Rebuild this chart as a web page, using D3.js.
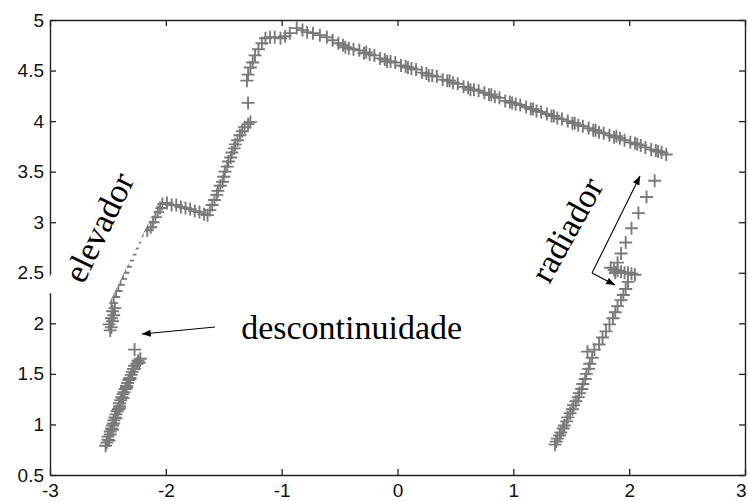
<!DOCTYPE html>
<html>
<head>
<meta charset="utf-8">
<script src="https://cdn.jsdelivr.net/npm/d3@7"></script>
<style>
  body { margin: 0; background: #fff; }
  svg { display: block; }
  .tick text { font-family: "Liberation Sans", Arial, sans-serif; font-size: 19px; fill: #111; }
  .note { font-family: "Liberation Serif", "Times New Roman", serif; font-size: 34px; fill: #000; }
</style>
</head>
<body>
<svg id="chart" width="748" height="501"></svg>
<script>
// axis ticks
const xTicks = [-3, -2, -1, 0, 1, 2, 3];
const yTicks = [0.5, 1, 1.5, 2, 2.5, 3, 3.5, 4, 4.5, 5];

// laser scan points, one array per stretch of wall
const lowerLeft = [[-2.52,0.79],[-2.51,0.82],[-2.50,0.85],[-2.50,0.88],[-2.48,0.90],[-2.48,0.93],[-2.47,0.96],
  [-2.46,0.99],[-2.45,1.01],[-2.45,1.04],[-2.44,1.07],[-2.43,1.10],[-2.42,1.13],[-2.41,1.15],[-2.40,1.18],
  [-2.40,1.21],[-2.39,1.24],[-2.38,1.27],[-2.37,1.30],[-2.36,1.32],[-2.35,1.35],[-2.34,1.38],[-2.33,1.41],
  [-2.32,1.44],[-2.31,1.46],[-2.30,1.49],[-2.29,1.52],[-2.28,1.55],[-2.27,1.58],[-2.25,1.60],[-2.24,1.63],
  [-2.22,1.65],[-2.27,1.74],[-2.49,0.84],[-2.46,0.95],[-2.43,1.06],[-2.40,1.16],[-2.37,1.26],[-2.34,1.36],
  [-2.31,1.45],[-2.27,1.55],[-2.23,1.61]];

const elevatorSide = [[-2.48,1.93],[-2.47,1.96],[-2.49,1.99],[-2.46,2.02],[-2.47,2.05],[-2.45,2.08],[-2.46,2.12],
  [-2.44,2.15],[-2.47,2.20],[-2.45,2.26],[-2.43,2.32],[-2.41,2.38],[-2.39,2.44],[-2.37,2.50],[-2.35,2.56],
  [-2.33,2.62],[-2.31,2.68],[-2.29,2.74],[-2.27,2.80],[-2.25,2.86],[-2.23,2.91]];

const stairs = [[-2.20,2.93],[-2.16,2.92],[-2.13,2.95],[-2.11,3.00],[-2.09,3.05],[-2.07,3.10],[-2.05,3.14],
  [-2.03,3.18],[-1.99,3.19],[-1.95,3.17],[-1.91,3.17],[-1.87,3.15],[-1.83,3.14],[-1.79,3.13],[-1.75,3.11],
  [-1.71,3.10],[-1.67,3.08],[-1.64,3.07],[-1.62,3.12],[-1.60,3.17],[-1.58,3.22],[-1.56,3.27],[-1.55,3.31],
  [-1.53,3.36],[-1.51,3.40],[-1.50,3.45],[-1.49,3.50],[-1.47,3.55],[-1.46,3.60],[-1.44,3.64],[-1.43,3.69],
  [-1.41,3.73],[-1.40,3.77],[-1.38,3.81],[-1.36,3.86],[-1.34,3.90],[-1.32,3.94],[-1.29,3.97],[-1.27,3.99],
  [-1.29,4.18],[-1.30,4.40],[-1.29,4.46],[-1.27,4.53],[-1.25,4.58],[-1.23,4.65],[-1.20,4.71],[-1.17,4.77],
  [-1.14,4.82],[-1.10,4.83],[-1.06,4.83],[-1.01,4.82],[-0.97,4.84],[-0.93,4.87],[-0.87,4.92],[-0.82,4.90],
  [-0.78,4.88],[-0.73,4.87],[-0.67,4.85],[-0.61,4.83],[-0.56,4.80]];

const topWall = [[-0.51,4.77],[-0.47,4.75],[-0.42,4.72],[-0.38,4.71],[-0.33,4.70],[-0.29,4.67],[-0.24,4.66],
  [-0.20,4.65],[-0.15,4.62],[-0.11,4.61],[-0.06,4.59],[-0.02,4.58],[0.03,4.55],[0.07,4.54],[0.12,4.52],
  [0.16,4.51],[0.21,4.48],[0.25,4.47],[0.30,4.45],[0.34,4.44],[0.39,4.41],[0.43,4.40],[0.48,4.38],
  [0.52,4.37],[0.57,4.34],[0.61,4.33],[0.66,4.31],[0.70,4.30],[0.75,4.28],[0.79,4.26],[0.84,4.24],
  [0.88,4.23],[0.93,4.20],[0.97,4.19],[1.02,4.17],[1.06,4.16],[1.11,4.14],[1.15,4.12],[1.20,4.10],
  [1.24,4.09],[1.29,4.07],[1.33,4.05],[1.38,4.03],[1.42,4.02],[1.47,4.00],[1.51,3.98],[1.56,3.96],
  [1.60,3.95],[1.65,3.93],[1.69,3.91],[1.74,3.89],[1.78,3.88],[1.83,3.86],[1.87,3.84],[1.92,3.83],
  [1.96,3.81],[2.01,3.79],[2.05,3.78],[2.10,3.76],[2.14,3.74],[2.19,3.72],[2.23,3.71],[2.28,3.69],
  [2.32,3.67],[-0.45,4.73],[-0.27,4.68],[-0.09,4.59],[0.09,4.53],[0.27,4.45],[0.45,4.40],[0.63,4.31],
  [0.81,4.26],[0.99,4.18],[1.17,4.12],[1.35,4.05],[1.53,3.98],[1.71,3.91],[1.89,3.85],[2.07,3.77],
  [2.25,3.70]];

const radiator = [[2.22,3.41],[2.15,3.25],[2.08,3.09],[2.02,2.94],[1.97,2.80],[1.93,2.69],[1.90,2.60],
  [1.84,2.55],[1.87,2.53],[1.90,2.52],[1.93,2.51],[1.96,2.50],[1.99,2.50],[2.02,2.49],[2.05,2.48],
  [1.88,2.50],[1.99,2.41],[1.97,2.34],[1.95,2.28],[1.93,2.23],[1.90,2.17],[1.88,2.11],[1.86,2.05],
  [1.83,1.99],[1.80,1.92],[1.77,1.86],[1.74,1.79],[1.70,1.74],[1.64,1.72],[1.68,1.66],[1.66,1.60],
  [1.65,1.55],[1.63,1.50],[1.62,1.45],[1.60,1.40],[1.59,1.35],[1.57,1.31],[1.56,1.27],[1.54,1.23],
  [1.52,1.19],[1.51,1.15],[1.49,1.11],[1.47,1.07],[1.46,1.03],[1.44,0.99],[1.43,0.96],[1.41,0.92],
  [1.40,0.89],[1.38,0.86],[1.37,0.83],[1.36,0.80]];

// annotations, in data units
const labels = [
  { text: "elevador", x: -2.71, y: 2.38, angle: -64, box: true },
  { text: "radiador", x: 1.31, y: 2.38, angle: -61, box: false },
  { text: "descontinuidade", x: -1.35, y: 1.85, angle: 0, box: false }
];
const arrows = [
  { from: [-1.575, 1.963], to: [-2.206, 1.894] },
  { from: [1.679, 2.497], to: [2.094, 3.457] },
  { from: [1.679, 2.497], to: [1.878, 2.379] }
];

const margin = { top: 20, right: 3, bottom: 26, left: 50 };
const width = 748 - margin.left - margin.right;
const height = 501 - margin.top - margin.bottom;

const svg = d3.select("#chart");
const g = svg.append("g").attr("transform", `translate(${margin.left},${margin.top})`);

const x = d3.scaleLinear().domain([-3, 3]).range([0, width]);
const y = d3.scaleLinear().domain([0.5, 5]).range([height, 0]);

// points as "+" markers
const allPoints = [].concat(lowerLeft, elevatorSide, stairs, topWall, radiator);
g.append("g").selectAll("path")
  .data(allPoints)
  .enter()
  .append("path")
  .attr("transform", d => `translate(${x(d[0])},${y(d[1])})`)
  .attr("d", "M-6.5,0H6.5M0,-6.5V6.5")
  .attr("stroke", "#7a7a7a")
  .attr("stroke-width", 1.9)
  .attr("fill", "none");

// axes with inward ticks, matlab style box
const fmt = d => String(d);
const xAxisG = g.append("g").attr("transform", `translate(0,${height})`)
  .call(d3.axisBottom(x).tickValues(xTicks).tickFormat(fmt).tickSize(-6).tickSizeOuter(0).tickPadding(9));
// keep the last label inside the window
xAxisG.selectAll(".tick text").filter(d => d === 3).attr("text-anchor", "end").attr("dx", 1);
g.append("g")
  .call(d3.axisLeft(y).tickValues(yTicks).tickFormat(fmt).tickSize(-6).tickSizeOuter(0).tickPadding(6));
g.append("g")
  .call(d3.axisTop(x).tickValues(xTicks).tickFormat("").tickSize(-6).tickSizeOuter(0));
g.append("g").attr("transform", `translate(${width},0)`)
  .call(d3.axisRight(y).tickValues(yTicks).tickFormat("").tickSize(-6).tickSizeOuter(0));
g.selectAll(".domain").attr("stroke", "#222").attr("stroke-width", 1.4);
g.selectAll(".tick line").attr("stroke", "#222").attr("stroke-width", 1.3);

// text labels
labels.forEach(l => {
  const lg = g.append("g")
    .attr("transform", `translate(${x(l.x)},${y(l.y)}) rotate(${l.angle})`);
  const t = lg.append("text").attr("class", "note").text(l.text);
  if (l.box) {
    const w = t.node().getComputedTextLength();
    lg.insert("rect", "text")
      .attr("x", -22).attr("y", -34)
      .attr("width", w + 30).attr("height", 65)
      .attr("fill", "#fff");
  }
});

// arrows
svg.append("defs").append("marker")
  .attr("id", "head")
  .attr("markerUnits", "userSpaceOnUse")
  .attr("viewBox", "0 0 10 8")
  .attr("refX", 10).attr("refY", 4)
  .attr("markerWidth", 10).attr("markerHeight", 7)
  .attr("orient", "auto")
  .append("path").attr("d", "M0,0L10,4L0,8z").attr("fill", "#000");

g.append("g").selectAll("line")
  .data(arrows)
  .enter()
  .append("line")
  .attr("x1", d => x(d.from[0])).attr("y1", d => y(d.from[1]))
  .attr("x2", d => x(d.to[0])).attr("y2", d => y(d.to[1]))
  .attr("stroke", "#000")
  .attr("stroke-width", 1.1)
  .attr("marker-end", "url(#head)");
</script>
</body>
</html>
